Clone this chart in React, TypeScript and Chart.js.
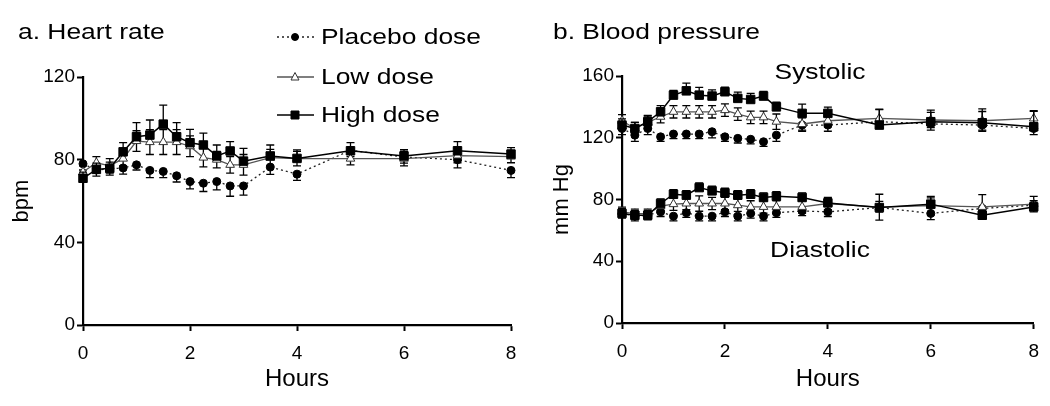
import React, { useEffect, useRef } from "react";
import { Chart, registerables } from "chart.js";
Chart.register(...registerables);

// ---- data ----
const hours = [0, 0.25, 0.5, 0.75, 1, 1.25, 1.5, 1.75, 2, 2.25, 2.5, 2.75, 3, 3.5, 4, 5, 6, 7, 8];
const xTicks = [0, 2, 4, 6, 8];
const hrTicks = [0, 40, 80, 120];
const bpTicks = [0, 40, 80, 120, 160];

const hrPlacebo = [78, 75, 75.5, 76, 77.5, 74.8, 74.3, 72.2, 69.4, 68.6, 69.4, 67.3, 67.3, 76.4, 73, 84.5, 81.3, 80, 74.8];
const hrPlaceboErr = [3, 3, 3, 3, 2.5, 3.5, 3, 3, 3.5, 4, 4, 5, 4.5, 3.5, 3, 3, 3, 4, 3.5];
const hrLow = [74, 78.5, 77, 80.5, 89, 88.5, 88.5, 88.5, 86.5, 81, 80, 77.5, 77.5, 81, 80.5, 80.5, 80.5, 82, 81.5];
const hrLowErr = [3, 3, 3.5, 3.5, 5, 6, 6, 6, 5, 4.5, 4, 4, 5, 4, 3.5, 3, 3.5, 3.5, 3];
const hrHigh = [71, 75.3, 75.8, 83.8, 91.1, 91.9, 97.2, 91.1, 88.2, 87.1, 81.8, 84.2, 79.3, 81.8, 80.6, 84.3, 81.8, 84.3, 82.7];
const hrHighErr = [3, 3, 3, 4.4, 6.8, 7.3, 9.2, 6.8, 6.5, 5.7, 5.3, 4.5, 6.2, 5.3, 4.1, 3.9, 3, 4.4, 3.1];

const sysPlacebo = [126, 121.7, 126, 120.6, 122.4, 122.4, 122.4, 123.9, 120.6, 119.6, 119, 117.4, 121.7, 128.2, 128.2, 130.4, 129, 128.2, 126];
const sysPlaceboErr = [4, 4, 4, 3, 3, 3, 3, 4, 3, 3, 3, 3, 4, 4, 4, 4, 4, 4, 4];
const sysLow = [131, 126, 130, 133.6, 136.8, 136.8, 136.8, 136.8, 137.9, 135.3, 133.2, 133.2, 130.4, 128.9, 131, 132.5, 131.5, 131, 132.5];
const sysLowErr = [4, 4, 4, 4, 4, 4, 4, 4, 4, 4, 4, 4, 5, 4, 4, 6, 5, 6, 5];
const sysHigh = [128.2, 126, 130.4, 136.8, 147.6, 150.4, 147.6, 147, 149.8, 145.5, 144.8, 147, 140, 135.8, 135.8, 128.2, 130.4, 129.7, 127.1];
const sysHighErr = [4, 4, 4, 4, 3, 5, 5, 4, 3, 4, 4, 3, 3, 6, 4, 10, 7.5, 9, 10];

const diaPlacebo = [71, 69.2, 69.8, 72, 69.2, 71.4, 69.2, 69.2, 72, 69.2, 71, 69.2, 71.4, 72.6, 72, 74.8, 71, 74.2, 76.3];
const diaPlaceboErr = [3, 3, 3, 3, 3, 3, 3, 3, 3, 3, 3, 3, 3, 3, 3, 3, 4, 3, 3];
const diaLow = [72, 70.8, 70.8, 75.7, 77, 77.4, 77.4, 77.4, 77.4, 76.3, 75.2, 75.2, 75.2, 75.2, 77.4, 75, 76, 75.2, 77];
const diaLowErr = [3, 3, 3, 3, 4, 4, 5, 4, 4, 4, 4, 4, 4, 4, 4, 8.4, 6, 8, 5];
const diaHigh = [71, 69.8, 69.8, 77.4, 83.4, 82.8, 87.7, 85.6, 84.3, 82.8, 83.4, 81.3, 82.1, 81.3, 77.8, 74.8, 77, 69.8, 75.2];
const diaHighErr = [3, 3, 3, 3, 3, 3, 3, 3, 3, 3, 3, 3, 3, 3, 3, 4, 4, 3, 4];

const legendLabels = ["Placebo dose", "Low dose", "High dose"];

// ---- styles ----
const FONT = "'Liberation Sans', Arial, Helvetica, sans-serif";
type Kind = "placebo" | "low" | "high";
const styleOf: Record<Kind, any> = {
  placebo: {
    borderColor: "#222", borderDash: [2, 3], borderWidth: 1.3,
    pointStyle: "circle", pointRadius: 4, pointBackgroundColor: "#000", pointBorderColor: "#000", pointBorderWidth: 1,
    errDir: "down", order: 2,
  },
  low: {
    borderColor: "#555", borderWidth: 1.3,
    pointStyle: "triangle", pointRadius: 5, pointBackgroundColor: "#fff", pointBorderColor: "#333", pointBorderWidth: 1,
    errDir: "both", order: 1,
  },
  high: {
    borderColor: "#000", borderWidth: 1.5,
    pointStyle: "rect", pointRadius: 6, pointBackgroundColor: "#000", pointBorderColor: "#000", pointBorderWidth: 1,
    errDir: "up", order: 0,
  },
};

function makeDs(label: string, kind: Kind, values: number[], errors: number[]) {
  return {
    label,
    data: hours.map((h, i) => ({ x: h, y: values[i] })),
    errors,
    ...styleOf[kind],
    tension: 0,
    fill: false,
    clip: false,
    pointHoverRadius: styleOf[kind].pointRadius,
  };
}

const errorBarPlugin = {
  id: "errorBars",
  beforeDatasetDraw(chart: any, args: any) {
    const ds = chart.data.datasets[args.index];
    if (!ds.errors) return;
    const yScale = chart.scales.y;
    const ctx = chart.ctx;
    ctx.save();
    ctx.strokeStyle = "#000";
    ctx.lineWidth = 1.3;
    ctx.setLineDash([]);
    args.meta.data.forEach((pt: any, i: number) => {
      const v = ds.data[i].y;
      const e = ds.errors[i];
      const draw = (val: number) => {
        const py = yScale.getPixelForValue(val);
        ctx.beginPath();
        ctx.moveTo(pt.x, pt.y);
        ctx.lineTo(pt.x, py);
        ctx.moveTo(pt.x - 4, py);
        ctx.lineTo(pt.x + 4, py);
        ctx.stroke();
      };
      if (ds.errDir !== "down") draw(v + e);
      if (ds.errDir !== "up") draw(v - e);
    });
    ctx.restore();
  },
};

const legendSymbolPlugin = {
  id: "legendSymbols",
  afterDraw(chart: any) {
    const ctx = chart.ctx;
    const rows: [Kind, number][] = [["placebo", 37], ["low", 77], ["high", 115]];
    ctx.save();
    rows.forEach(([kind, y]) => {
      const s = styleOf[kind];
      ctx.strokeStyle = s.borderColor;
      ctx.lineWidth = s.borderWidth;
      ctx.setLineDash(s.borderDash || []);
      ctx.beginPath();
      ctx.moveTo(277, y);
      ctx.lineTo(314, y);
      ctx.stroke();
      ctx.setLineDash([]);
      const cx = 295;
      ctx.fillStyle = s.pointBackgroundColor;
      ctx.strokeStyle = s.pointBorderColor;
      ctx.lineWidth = 1;
      ctx.beginPath();
      if (kind === "placebo") ctx.arc(cx, y, 3.5, 0, Math.PI * 2);
      else if (kind === "low") {
        ctx.moveTo(cx, y - 4.5);
        ctx.lineTo(cx + 4, y + 3);
        ctx.lineTo(cx - 4, y + 3);
        ctx.closePath();
      } else ctx.rect(cx - 4, y - 4, 8, 8);
      ctx.fill();
      ctx.stroke();
    });
    ctx.restore();
  },
};

function makeOptions(cfg: {
  yMax: number; yTicks: number[]; yTitle: string; yWidth: number; yTitlePad: number;
  padTop: number; padRight: number; padBottom: number; xHeight: number;
}) {
  const tickFont = { family: FONT, size: 19 };
  return {
    responsive: false,
    animation: false as const,
    layout: { padding: { left: 0, right: cfg.padRight, top: cfg.padTop, bottom: cfg.padBottom } },
    plugins: { legend: { display: false }, tooltip: { enabled: false } },
    events: [] as any[],
    scales: {
      x: {
        type: "linear" as const,
        min: 0, max: 8,
        afterBuildTicks: (s: any) => { s.ticks = xTicks.map((v) => ({ value: v })); },
        afterFit: (s: any) => { s.height = cfg.xHeight; },
        grid: { display: true, drawOnChartArea: false, drawTicks: true, tickLength: 6, tickWidth: 2, tickColor: "#000" },
        border: { display: true, color: "#000", width: 2.2 },
        ticks: { color: "#000", font: tickFont, padding: 11, maxRotation: 0 },
        title: { display: true, text: "Hours", color: "#000", font: { family: FONT, size: 24 }, padding: { top: 0, bottom: 0 } },
      },
      y: {
        type: "linear" as const,
        min: 0, max: cfg.yMax,
        afterBuildTicks: (s: any) => { s.ticks = cfg.yTicks.map((v) => ({ value: v })); },
        afterFit: (s: any) => { s.width = cfg.yWidth; },
        grid: { display: true, drawOnChartArea: false, drawTicks: true, tickLength: 6, tickWidth: 2, tickColor: "#000" },
        border: { display: true, color: "#000", width: 2.2 },
        ticks: { color: "#000", font: tickFont, padding: 2 },
        title: { display: true, text: cfg.yTitle, color: "#000", font: { family: FONT, size: 22 }, padding: { top: cfg.yTitlePad, bottom: 0 } },
      },
    },
  };
}

function HeartRate() {
  const ref = useRef<HTMLCanvasElement>(null);
  useEffect(() => {
    const chart = new Chart(ref.current!, {
      type: "line",
      data: {
        datasets: [
          makeDs(legendLabels[0], "placebo", hrPlacebo, hrPlaceboErr),
          makeDs(legendLabels[1], "low", hrLow, hrLowErr),
          makeDs(legendLabels[2], "high", hrHigh, hrHighErr),
        ] as any,
      },
      options: makeOptions({
        yMax: 120, yTicks: hrTicks, yTitle: "bpm", yWidth: 83, yTitlePad: 9,
        padTop: 77, padRight: 19, padBottom: 12, xHeight: 69,
      }) as any,
      plugins: [errorBarPlugin, legendSymbolPlugin],
    });
    return () => chart.destroy();
  }, []);
  return <canvas ref={ref} width={530} height={406} style={{ position: "absolute", left: 0, top: 0, width: 530, height: 406 }} />;
}

function BloodPressure() {
  const ref = useRef<HTMLCanvasElement>(null);
  useEffect(() => {
    const chart = new Chart(ref.current!, {
      type: "line",
      data: {
        datasets: [
          makeDs("Placebo dose systolic", "placebo", sysPlacebo, sysPlaceboErr),
          makeDs("Low dose systolic", "low", sysLow, sysLowErr),
          makeDs("High dose systolic", "high", sysHigh, sysHighErr),
          makeDs("Placebo dose diastolic", "placebo", diaPlacebo, diaPlaceboErr),
          makeDs("Low dose diastolic", "low", diaLow, diaLowErr),
          makeDs("High dose diastolic", "high", diaHigh, diaHighErr),
        ] as any,
      },
      options: makeOptions({
        yMax: 160, yTicks: bpTicks, yTitle: "mm Hg", yWidth: 92, yTitlePad: 19,
        padTop: 76, padRight: 7, padBottom: 12, xHeight: 71,
      }) as any,
      plugins: [errorBarPlugin],
    });
    return () => chart.destroy();
  }, []);
  return <canvas ref={ref} width={520} height={406} style={{ position: "absolute", left: 530, top: 0, width: 520, height: 406 }} />;
}

const textStyle = (left: number, top: number, center = false): React.CSSProperties => ({
  position: "absolute",
  left,
  top,
  fontFamily: FONT,
  fontSize: 22,
  lineHeight: "22px",
  color: "#000",
  whiteSpace: "nowrap",
  transformOrigin: center ? "50% 50%" : "0 50%",
  transform: center ? "translate(-50%, -50%) scaleX(1.2)" : "translateY(-50%) scaleX(1.2)",
});

export default function App() {
  return (
    <div style={{ position: "absolute", left: 0, top: 0, width: 1050, height: 406, background: "#fff", overflow: "hidden" }}>
      <HeartRate />
      <BloodPressure />
      <div style={textStyle(18, 32)}>a. Heart rate</div>
      <div style={textStyle(321, 37)}>{legendLabels[0]}</div>
      <div style={textStyle(321, 77)}>{legendLabels[1]}</div>
      <div style={textStyle(321, 115)}>{legendLabels[2]}</div>
      <div style={textStyle(553, 32)}>b. Blood pressure</div>
      <div style={textStyle(820, 72, true)}>Systolic</div>
      <div style={textStyle(820, 250, true)}>Diastolic</div>
    </div>
  );
}
